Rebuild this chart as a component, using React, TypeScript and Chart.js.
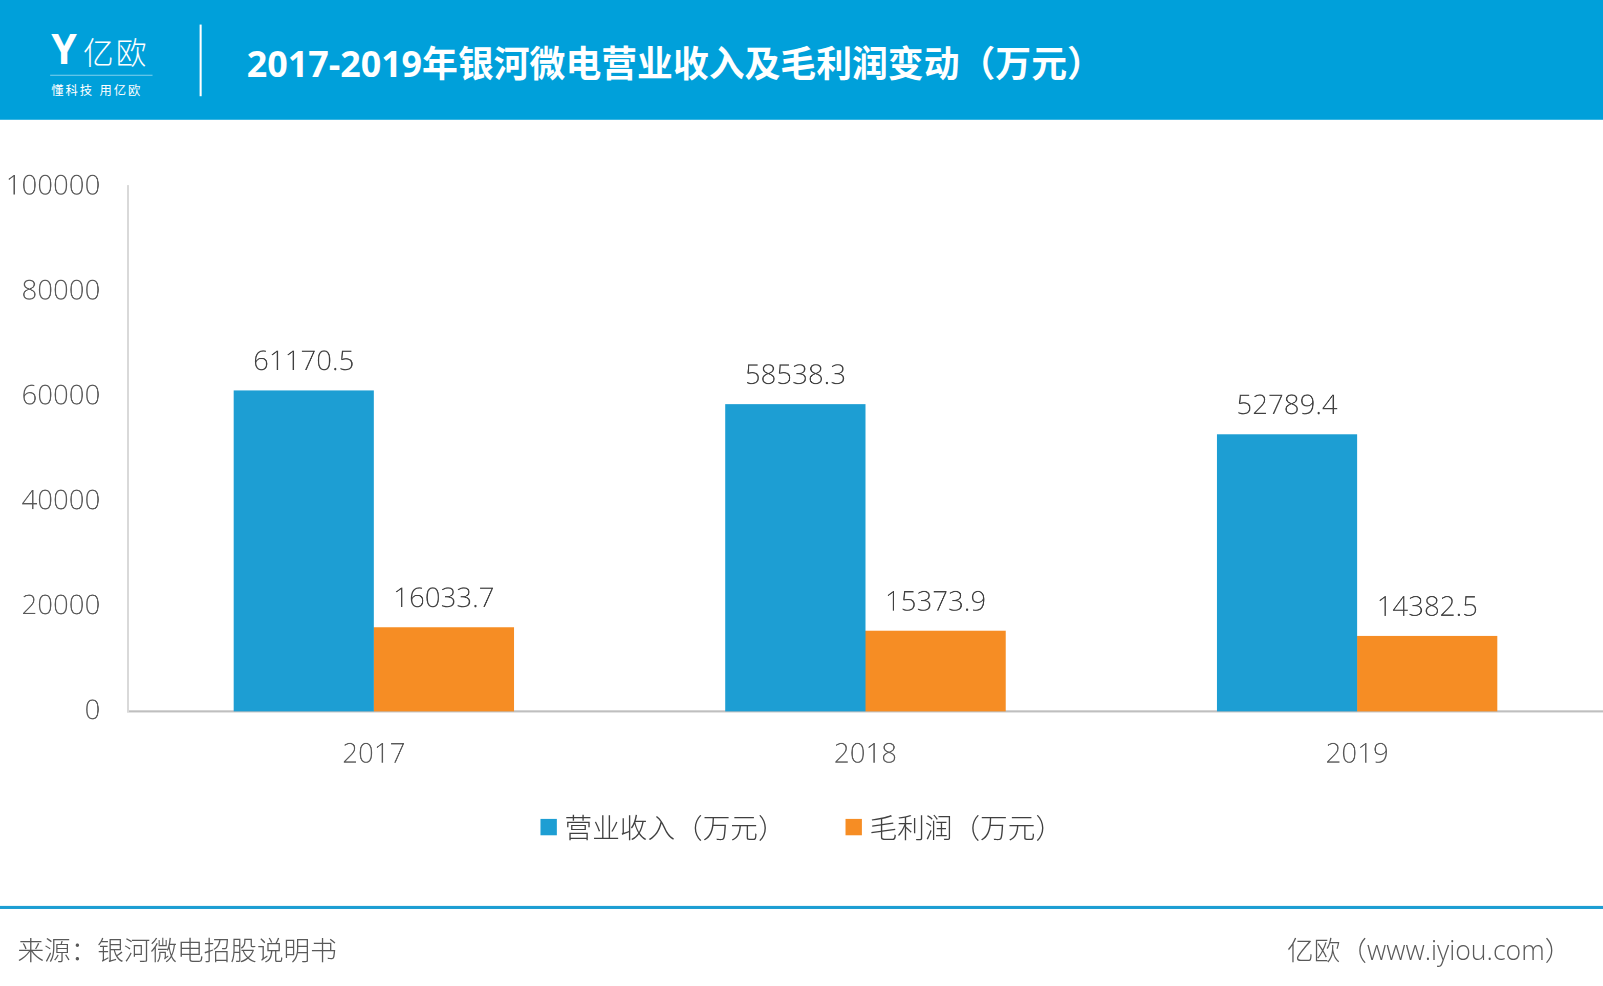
import { useEffect, useRef } from 'react';
import { Chart, registerables } from 'chart.js';

Chart.register(...registerables);

const years = ['2017', '2018', '2019'];
const revenue = [61170.5, 58538.3, 52789.4];
const grossProfit = [16033.7, 15373.9, 14382.5];
const seriesNames = ['营业收入（万元）', '毛利润（万元）'];
const colors = ['#1d9ed3', '#f68d24'];

const FONT = '"Open Sans", "Noto Sans CJK SC", sans-serif';
// layout below is measured on a 1566-wide grid, scaled up to the 1603 page
const SCALE = 1603 / 1566;

const valueLabels = {
  id: 'valueLabels',
  afterDatasetsDraw(chart: Chart) {
    const ctx = chart.ctx;
    ctx.save();
    ctx.font = `300 27px ${FONT}`;
    ctx.fillStyle = '#404040';
    ctx.textAlign = 'center';
    ctx.textBaseline = 'bottom';
    chart.data.datasets.forEach((ds, i) => {
      chart.getDatasetMeta(i).data.forEach((bar: any, j) => {
        ctx.fillText(String(ds.data[j]), bar.x, bar.y - 14);
      });
    });
    ctx.restore();
  },
};

export default function App() {
  const canvasRef = useRef<HTMLCanvasElement>(null);

  useEffect(() => {
    if (!canvasRef.current) return;
    const chart = new Chart(canvasRef.current, {
      type: 'bar',
      data: {
        labels: years,
        datasets: [
          { label: seriesNames[0], data: revenue, backgroundColor: colors[0] },
          { label: seriesNames[1], data: grossProfit, backgroundColor: colors[1] },
        ],
      },
      options: {
        animation: false,
        responsive: false,
        devicePixelRatio: 2,
        layout: { padding: { top: 21, right: 0 } },
        datasets: { bar: { categoryPercentage: 0.57, barPercentage: 1 } },
        plugins: { legend: { display: false }, tooltip: { enabled: false } },
        scales: {
          x: {
            grid: { display: false },
            border: { color: '#bfbfbf', width: 2 },
            ticks: { color: '#595959', font: { family: FONT, size: 27, weight: 300 }, padding: 18 },
            afterFit: (s: any) => { s.height = 75; },
          },
          y: {
            min: 0,
            max: 100000,
            grid: { display: false },
            border: { color: '#d9d9d9', width: 2 },
            ticks: {
              stepSize: 20000,
              color: '#595959',
              font: { family: FONT, size: 27, weight: 300 },
              padding: 19,
              callback: (v: any) => String(v),
            },
            afterFit: (s: any) => { s.width = 125; },
          },
        },
      },
      plugins: [valueLabels],
    });
    return () => chart.destroy();
  }, []);

  return (
    <div style={{ position: 'fixed', left: 0, top: 0, width: 1603, height: 986, background: '#fff', overflow: 'hidden' }}>
      <div style={{ position: 'absolute', left: 0, top: 0, width: 1566, height: 963, fontFamily: FONT, transform: `scale(${SCALE})`, transformOrigin: '0 0' }}>
        <div style={{ position: 'absolute', left: 0, top: 0, width: 1566, height: 117, background: '#00a0da' }}>
          <div style={{ position: 'absolute', left: 50, top: 20, color: '#fff', fontSize: 30, fontWeight: 300, letterSpacing: 2 }}>
            <span style={{ fontSize: 40, fontWeight: 700, marginRight: 4 }}>Y</span>亿欧
          </div>
          <div style={{ position: 'absolute', left: 49, top: 73, width: 100, borderTop: '1px solid rgba(255,255,255,0.5)' }} />
          <div style={{ position: 'absolute', left: 50, top: 79, color: '#fff', fontSize: 12, letterSpacing: 2 }}>懂科技 用亿欧</div>
          <div style={{ position: 'absolute', left: 195, top: 24, width: 2, height: 70, background: '#fff' }} />
          <div style={{ position: 'absolute', left: 241, top: 34, color: '#fff', fontSize: 35, fontWeight: 700 }}>
            2017-2019年银河微电营业收入及毛利润变动（万元）
          </div>
        </div>
        <canvas ref={canvasRef} width={1566} height={623} style={{ position: 'absolute', left: 0, top: 147, width: 1566, height: 623 }} />
        <div style={{ position: 'absolute', top: 788, left: 0, width: 1566, display: 'flex', justifyContent: 'center', gap: 58, fontSize: 27, fontWeight: 300, color: '#404040' }}>
          {seriesNames.map((n, i) => (
            <div key={n} style={{ display: 'flex', alignItems: 'center', gap: 8 }}>
              <span style={{ width: 16, height: 16, background: colors[i], display: 'inline-block' }} />
              {n}
            </div>
          ))}
        </div>
        <div style={{ position: 'absolute', left: 0, top: 885, width: 1566, height: 3, background: '#1d9ed3' }} />
        <div style={{ position: 'absolute', left: 17, top: 908, fontSize: 26, fontWeight: 300, color: '#595959' }}>来源：银河微电招股说明书</div>
        <div style={{ position: 'absolute', right: 31, top: 908, fontSize: 26, fontWeight: 300, color: '#595959' }}>亿欧（www.iyiou.com）</div>
      </div>
    </div>
  );
}
